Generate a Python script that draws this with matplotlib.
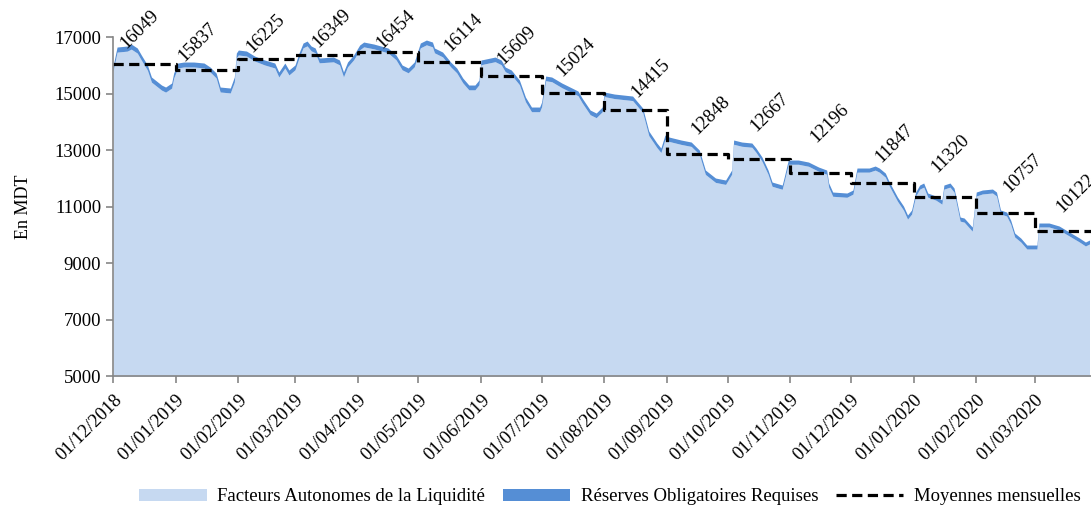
import pandas as pd
import matplotlib
matplotlib.use("Agg")
import matplotlib.pyplot as plt
import matplotlib.dates as mdates
from matplotlib.patches import Patch
from matplotlib.lines import Line2D

plt.rcParams['font.family'] = ['Liberation Serif', 'DejaVu Serif']

# besoins totaux (facteurs autonomes + reserves), en MDT
dates = [
    "2018-12-01", "2018-12-03", "2018-12-08", "2018-12-10", "2018-12-13", "2018-12-15",
    "2018-12-18", "2018-12-20", "2018-12-25", "2018-12-27", "2018-12-30", "2018-12-31",
    "2019-01-02", "2019-01-05", "2019-01-10", "2019-01-15", "2019-01-18", "2019-01-21",
    "2019-01-23", "2019-01-28", "2019-01-30", "2019-01-31",
    "2019-02-01", "2019-02-05", "2019-02-09", "2019-02-14", "2019-02-19", "2019-02-21",
    "2019-02-24", "2019-02-26",
    "2019-03-01", "2019-03-03", "2019-03-05", "2019-03-07", "2019-03-09", "2019-03-11",
    "2019-03-13", "2019-03-20", "2019-03-23", "2019-03-25", "2019-03-27", "2019-03-30",
    "2019-04-02", "2019-04-04", "2019-04-09", "2019-04-16", "2019-04-20", "2019-04-23",
    "2019-04-26", "2019-04-29",
    "2019-05-02", "2019-05-05", "2019-05-08", "2019-05-09", "2019-05-13", "2019-05-17",
    "2019-05-20", "2019-05-23", "2019-05-26", "2019-05-29", "2019-05-31",
    "2019-06-01", "2019-06-08", "2019-06-11", "2019-06-13", "2019-06-16", "2019-06-20",
    "2019-06-23", "2019-06-26", "2019-06-30",
    "2019-07-01", "2019-07-03", "2019-07-06", "2019-07-11", "2019-07-16", "2019-07-19",
    "2019-07-21", "2019-07-25", "2019-07-28", "2019-07-31",
    "2019-08-01", "2019-08-06", "2019-08-15", "2019-08-20", "2019-08-23", "2019-08-27",
    "2019-08-29", "2019-08-31",
    "2019-09-02", "2019-09-08", "2019-09-13", "2019-09-17", "2019-09-20", "2019-09-25",
    "2019-09-30",
    "2019-10-03", "2019-10-04", "2019-10-08", "2019-10-13", "2019-10-15", "2019-10-18",
    "2019-10-21", "2019-10-23", "2019-10-28", "2019-10-29", "2019-10-31",
    "2019-11-05", "2019-11-10", "2019-11-15", "2019-11-19", "2019-11-20", "2019-11-22",
    "2019-11-29",
    "2019-12-02", "2019-12-04", "2019-12-10", "2019-12-13", "2019-12-15", "2019-12-18",
    "2019-12-20", "2019-12-24", "2019-12-27", "2019-12-29", "2019-12-31",
    "2020-01-02", "2020-01-04", "2020-01-06", "2020-01-08", "2020-01-12", "2020-01-15",
    "2020-01-16", "2020-01-19", "2020-01-21", "2020-01-24", "2020-01-26", "2020-01-30",
    "2020-02-01", "2020-02-04", "2020-02-09", "2020-02-11", "2020-02-13", "2020-02-16",
    "2020-02-18", "2020-02-20", "2020-02-23", "2020-02-26",
    "2020-03-02", "2020-03-03", "2020-03-08", "2020-03-13", "2020-03-18", "2020-03-23",
    "2020-03-26", "2020-03-28",
]
besoins = [
    15973, 16646, 16681, 16752, 16611, 16363,
    16009, 15584, 15301, 15230, 15372, 15726,
    16080, 16115, 16115, 16080, 15938, 15726,
    15230, 15195, 15584, 16434,
    16540, 16504, 16327, 16186, 16080, 15761,
    16080, 15832,
    16009, 16434, 16788, 16858, 16681, 16611,
    16257, 16292, 16186, 15761, 16115, 16363,
    16717, 16823, 16752, 16611, 16363, 16009,
    15903, 16115,
    16788, 16894, 16823, 16611, 16469, 16115,
    15903, 15549, 15301, 15301, 15478,
    16186, 16292, 16186, 15938, 15832, 15478,
    14876, 14522, 14522,
    14699, 15619, 15584, 15372, 15195, 15088,
    14841, 14416, 14310, 14522,
    15053, 14982, 14911, 14487, 13672, 13248,
    13071, 13531,
    13460, 13354, 13283, 13000, 12292, 12009,
    11938,
    12292, 13354, 13283, 13248, 13071, 12752,
    12292, 11867, 11761, 12044, 12646,
    12646, 12575, 12398, 12292, 11832, 11513,
    11478,
    11584, 12363, 12363, 12434, 12363, 12186,
    11867, 11336, 11017, 10699, 10876,
    11513, 11761, 11832, 11478, 11371, 11230,
    11761, 11832, 11655, 10628, 10593, 10274,
    11513, 11584, 11619, 11513, 10876, 10805,
    10522, 10062, 9885, 9637,
    9637, 10416, 10416, 10310, 10097, 9885,
    9743, 9814,
]

# moyennes mensuelles et reserves obligatoires requises par mois
mois = ["2018-12-01", "2019-01-01", "2019-02-01", "2019-03-01", "2019-04-01",
        "2019-05-01", "2019-06-01", "2019-07-01", "2019-08-01", "2019-09-01",
        "2019-10-01", "2019-11-01", "2019-12-01", "2020-01-01", "2020-02-01",
        "2020-03-01"]
moyennes = [16049, 15837, 16225, 16349, 16454, 16114, 15609, 15024, 14415,
            12848, 12667, 12196, 11847, 11320, 10757, 10122]
reserves_mois = [180, 175, 175, 170, 170, 170, 165, 165, 160, 155, 150, 150,
                 145, 145, 140, 140]

# decalage des etiquettes (pixels a droite, pixels vers le haut)
decalages = [(13, 15), (9, 8), (14, 6), (23, 7), (25, 3), (32, 10), (22, 11),
             (21, 16), (33, 12), (30, 19), (29, 27), (26, 30), (30, 20),
             (24, 24), (33, 20), (28, 18)]

fin = pd.Timestamp("2020-03-28 18:00")

df = pd.DataFrame({'date': pd.to_datetime(dates), 'besoins': besoins})
df['mois'] = df['date'].dt.to_period('M').dt.to_timestamp()
res_map = dict(zip(pd.to_datetime(mois), reserves_mois))
df['reserves'] = df['mois'].map(res_map)
df['facteurs'] = df['besoins'] - df['reserves']

light = '#C6D9F1'
dark = '#558ED5'
grey = '#868686'

fig = plt.figure(figsize=(10.91, 5.08), dpi=100)
ax = fig.add_axes([0.1036, 0.2598, 0.8964, 0.6673])

ax.fill_between(df['date'], 0, df['facteurs'], color=light, lw=0)
ax.fill_between(df['date'], df['facteurs'], df['besoins'], color=dark, lw=0)

# moyennes mensuelles en escalier
mois_dt = list(pd.to_datetime(mois)) + [fin]
moy_ext = moyennes + [moyennes[-1]]
ax.plot(mois_dt, moy_ext, drawstyle='steps-post', color='black', lw=2.3,
        dashes=(3.2, 1.7))

px = 72 / fig.dpi
for m, v, (dx, dy) in zip(pd.to_datetime(mois), moyennes, decalages):
    ax.annotate(str(v), xy=(m, v), xytext=(dx * px, dy * px),
                textcoords='offset points', rotation=45,
                rotation_mode='anchor', ha='left', va='baseline',
                fontsize=13.5, annotation_clip=False)

ax.set_xlim(pd.Timestamp("2018-12-01"), fin)
ax.set_ylim(5000, 17000)
ax.set_yticks(range(5000, 17001, 2000))
ax.set_xticks(pd.to_datetime(mois))
ax.xaxis.set_major_formatter(mdates.DateFormatter('%d/%m/%Y'))
plt.setp(ax.get_xticklabels(), rotation=45, ha='right', va='top',
         rotation_mode='anchor')

for side in ['top', 'right']:
    ax.spines[side].set_visible(False)
for side in ['left', 'bottom']:
    ax.spines[side].set_color(grey)
    ax.spines[side].set_linewidth(1.2)
ax.tick_params(axis='both', colors=grey, labelcolor='black', labelsize=13.5,
               length=5, width=1.2, direction='out')
ax.tick_params(axis='x', pad=6)
ax.set_ylabel('En MDT', fontsize=13, labelpad=16)

handles = [Patch(facecolor=light, edgecolor='none'),
           Patch(facecolor=dark, edgecolor='none'),
           Line2D([0], [0], color='black', lw=2.3, dashes=(3.2, 1.7))]
labels = ['Facteurs Autonomes de la Liquidité',
          'Réserves Obligatoires Requises',
          'Moyennes mensuelles']
fig.legend(handles, labels, loc='center', bbox_to_anchor=(0.559, 0.022),
           ncol=3, frameon=False, fontsize=13.5, handlelength=3.6,
           handleheight=0.6, handletextpad=0.55, columnspacing=0.95)

fig.savefig('out.png', dpi=100)
